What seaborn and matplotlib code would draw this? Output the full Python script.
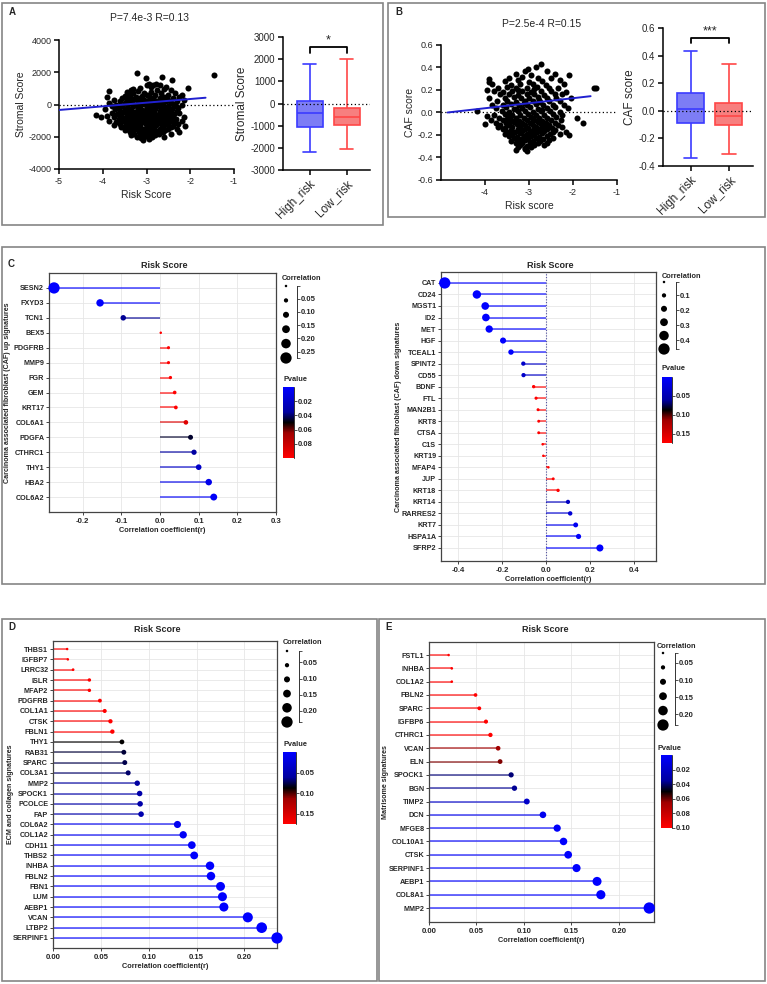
import numpy as np
import pandas as pd
import matplotlib
matplotlib.use('Agg')
import matplotlib.pyplot as plt
import seaborn as sns
from matplotlib.colors import LinearSegmentedColormap, Normalize
from matplotlib.cm import ScalarMappable
from matplotlib.patches import Rectangle

# ---------------- panel A : risk score vs stromal score ----------------
scatter_a = [
    (-3.22, 1980), (-2.64, 1730), (-3.02, 1620), (-2.42, 1520), (-1.45, 1800),
    (-2.95, 1260), (-2.86, 1240), (-2.78, 1270), (-3.0, 1180), (-2.7, 1200),
    (-2.9, 1090), (-2.55, 1110), (-2.05, 1000), (-3.3, 990), (-3.15, 1020), (-2.6, 970),
    (-3.35, 900), (-2.75, 880), (-2.45, 920),
    (-3.85, 820), (-3.45, 790), (-3.2, 810), (-2.9, 780),
    (-3.3, 700), (-3.05, 720), (-2.68, 690), (-2.35, 710),
    (-3.4, 610), (-3.0, 590), (-2.8, 620), (-2.52, 600), (-2.2, 580),
    (-3.9, 480), (-3.5, 510), (-3.25, 490), (-3.1, 520), (-2.95, 500), (-2.6, 470), (-2.25, 490),
    (-3.55, 410), (-3.35, 390), (-3.15, 400), (-2.85, 420), (-2.7, 380), (-2.4, 400),
    (-3.75, 300), (-3.45, 310), (-3.3, 280), (-3.05, 300), (-2.9, 320), (-2.65, 290), (-2.5, 310), (-2.15, 280),
    (-3.6, 200), (-3.2, 210), (-3.0, 190), (-2.78, 200), (-2.55, 220), (-2.3, 190),
    (-3.85, 100), (-3.5, 110), (-3.38, 90), (-3.12, 100), (-2.95, 120), (-2.7, 90), (-2.45, 110),
    (-3.7, 0), (-3.42, 10), (-3.25, -10), (-3.05, 20), (-2.85, 0), (-2.62, -20), (-2.4, 10), (-2.2, -10),
    (-3.8, -100), (-3.55, -90), (-3.3, -110), (-3.15, -100), (-2.98, -120), (-2.75, -90), (-2.5, -100), (-2.32, -110),
    (-3.65, -200), (-3.45, -210), (-3.2, -190), (-3.0, -200), (-2.9, -220), (-2.68, -200), (-2.55, -190), (-2.28, -210),
    (-3.95, -300), (-3.72, -310), (-3.5, -290), (-3.35, -300), (-3.1, -320), (-2.92, -300), (-2.8, -280), (-2.6, -310), (-2.42, -300),
    (-3.6, -400), (-3.4, -410), (-3.22, -390), (-3.05, -400), (-2.88, -420), (-2.7, -400), (-2.5, -390), (-2.3, -410),
    (-3.8, -500), (-3.55, -510), (-3.32, -490), (-3.15, -500), (-2.97, -520), (-2.82, -500), (-2.62, -490), (-2.45, -510), (-2.25, -500),
    (-4.15, -650), (-3.68, -600), (-3.45, -610), (-3.28, -590), (-3.1, -600), (-2.9, -620), (-2.72, -600), (-2.55, -590), (-2.38, -610),
    (-4.05, -750), (-3.9, -700), (-3.6, -710), (-3.38, -690), (-3.2, -700), (-3.02, -720), (-2.85, -700), (-2.65, -690), (-2.48, -710),
    (-3.75, -800), (-3.52, -810), (-3.3, -790), (-3.12, -800), (-2.95, -820), (-2.78, -800), (-2.58, -790), (-2.4, -810), (-2.15, -800),
    (-3.62, -900), (-3.42, -910), (-3.25, -890), (-3.05, -900), (-2.88, -920), (-2.7, -900), (-2.52, -890), (-2.32, -910),
    (-3.85, -1000), (-3.55, -1010), (-3.35, -990), (-3.18, -1000), (-2.98, -1020), (-2.8, -1000), (-2.62, -990), (-2.45, -1010), (-2.2, -1000),
    (-3.7, -1100), (-3.48, -1110), (-3.28, -1090), (-3.1, -1100), (-2.92, -1120), (-2.75, -1100), (-2.55, -1090), (-2.35, -1110),
    (-3.6, -1200), (-3.4, -1210), (-3.2, -1190), (-3.02, -1200), (-2.85, -1220), (-2.68, -1200), (-2.5, -1190), (-2.28, -1210),
    (-3.75, -1300), (-3.5, -1310), (-3.32, -1290), (-3.15, -1300), (-2.95, -1320), (-2.78, -1300), (-2.6, -1290), (-2.4, -1310), (-2.12, -1330),
    (-3.58, -1400), (-3.38, -1410), (-3.2, -1390), (-3.0, -1400), (-2.82, -1420), (-2.62, -1400), (-2.45, -1390),
    (-3.45, -1500), (-3.25, -1510), (-3.08, -1490), (-2.9, -1500), (-2.7, -1520), (-2.52, -1500), (-2.3, -1490),
    (-3.5, -1600), (-3.3, -1610), (-3.12, -1590), (-2.95, -1600), (-2.75, -1620), (-2.58, -1600),
    (-3.38, -1700), (-3.18, -1710), (-3.0, -1690), (-2.82, -1700), (-2.62, -1720), (-2.25, -1700),
    (-3.28, -1800), (-3.1, -1810), (-2.92, -1790), (-2.72, -1800), (-2.45, -1820),
    (-3.35, -1900), (-3.15, -1910), (-2.98, -1890), (-2.8, -1900),
    (-3.22, -2000), (-3.05, -2010), (-2.88, -1990), (-2.6, -2000),
    (-3.12, -2100), (-2.95, -2110), (-3.08, -2200),
    (-3.48, -350), (-3.27, -750), (-3.0, -1050), (-2.83, -550), (-3.4, -1550), (-2.7, -1700),
    (-3.58, -850), (-2.62, -250), (-3.18, 50), (-2.9, -1250), (-3.05, -1750), (-2.5, -650),
]
fit_a_x = [-5.0, -1.65]
fit_a_y = [-340, 420]

box_groups = ['High_risk', 'Low_risk']
# min, q1, median, q3, max
stromal_high = [-2200, -1050, -450, 100, 1800]
stromal_low = [-2050, -950, -600, -200, 2000]

# ---------------- panel B : risk score vs CAF score ----------------
scatter_b = [
    (-2.73, 0.43), (-3.02, 0.39), (-2.85, 0.40), (-3.1, 0.365), (-2.6, 0.37),
    (-3.3, 0.345), (-2.95, 0.335), (-2.4, 0.34), (-2.1, 0.33),
    (-3.9, 0.30), (-3.45, 0.31), (-3.15, 0.315), (-2.8, 0.305), (-2.5, 0.31),
    (-3.55, 0.28), (-3.25, 0.285), (-3.0, 0.275), (-2.7, 0.28), (-2.3, 0.285), (-3.92, 0.27),
    (-3.85, 0.25), (-3.4, 0.245), (-3.2, 0.255), (-2.9, 0.25), (-2.62, 0.245), (-2.2, 0.25),
    (-3.7, 0.22), (-3.5, 0.225), (-3.3, 0.215), (-3.05, 0.22), (-2.82, 0.225), (-2.55, 0.215),
    (-2.35, 0.22), (-1.52, 0.215), (-1.47, 0.215), (-3.95, 0.20),
    (-3.8, 0.19), (-3.6, 0.185), (-3.38, 0.195), (-3.15, 0.19), (-2.95, 0.185), (-2.72, 0.195), (-2.5, 0.19), (-2.15, 0.185),
    (-3.65, 0.16), (-3.45, 0.165), (-3.25, 0.155), (-3.05, 0.16), (-2.88, 0.165), (-2.65, 0.155), (-2.42, 0.16), (-2.25, 0.165),
    (-3.9, 0.13), (-3.55, 0.125), (-3.35, 0.135), (-3.18, 0.13), (-3.0, 0.125), (-2.8, 0.135), (-2.6, 0.13), (-2.38, 0.125), (-2.05, 0.13),
    (-3.72, 0.10), (-3.5, 0.105), (-3.3, 0.095), (-3.1, 0.10), (-2.92, 0.105), (-2.75, 0.095), (-2.55, 0.10), (-2.3, 0.105),
    (-3.85, 0.07), (-3.6, 0.065), (-3.42, 0.075), (-3.22, 0.07), (-3.05, 0.065), (-2.85, 0.075), (-2.68, 0.07), (-2.45, 0.065), (-2.2, 0.07),
    (-3.75, 0.04), (-3.52, 0.045), (-3.35, 0.035), (-3.15, 0.04), (-2.98, 0.045), (-2.8, 0.035), (-2.6, 0.04), (-2.4, 0.045), (-2.12, 0.04),
    (-4.18, 0.013), (-3.62, 0.01), (-3.45, 0.005), (-3.25, 0.015), (-3.08, 0.01), (-2.9, 0.005), (-2.72, 0.015), (-2.52, 0.01), (-2.3, 0.005),
    (-3.8, -0.02), (-3.55, -0.015), (-3.38, -0.025), (-3.2, -0.02), (-3.02, -0.015), (-2.85, -0.025), (-2.65, -0.02), (-2.45, -0.015), (-2.25, -0.025),
    (-3.95, -0.03), (-3.68, -0.045), (-3.48, -0.04), (-3.3, -0.05), (-3.12, -0.045), (-2.95, -0.04), (-2.78, -0.05), (-2.58, -0.045), (-2.38, -0.04), (-1.9, -0.045),
    (-3.87, -0.07), (-3.6, -0.07), (-3.4, -0.065), (-3.22, -0.075), (-3.05, -0.07), (-2.88, -0.065), (-2.7, -0.075), (-2.5, -0.07), (-2.28, -0.065),
    (-3.75, -0.09), (-3.52, -0.095), (-3.35, -0.085), (-3.15, -0.09), (-2.98, -0.095), (-2.8, -0.085), (-2.62, -0.09), (-2.42, -0.095), (-1.77, -0.09),
    (-4.0, -0.10), (-3.65, -0.11), (-3.45, -0.115), (-3.28, -0.105), (-3.08, -0.11), (-2.9, -0.115), (-2.72, -0.105), (-2.55, -0.11), (-2.35, -0.115),
    (-3.7, -0.13), (-3.55, -0.135), (-3.38, -0.125), (-3.2, -0.13), (-3.02, -0.135), (-2.85, -0.125), (-2.65, -0.13), (-2.48, -0.135), (-2.25, -0.125),
    (-3.6, -0.15), (-3.42, -0.155), (-3.25, -0.145), (-3.1, -0.15), (-2.92, -0.155), (-2.75, -0.145), (-2.58, -0.15), (-2.4, -0.155),
    (-3.5, -0.17), (-3.32, -0.175), (-3.15, -0.165), (-2.98, -0.17), (-2.82, -0.175), (-2.65, -0.165), (-2.45, -0.17), (-2.15, -0.175),
    (-3.55, -0.19), (-3.38, -0.195), (-3.2, -0.185), (-3.05, -0.19), (-2.88, -0.195), (-2.7, -0.185), (-2.52, -0.19), (-2.3, -0.195),
    (-3.45, -0.21), (-3.28, -0.215), (-3.12, -0.205), (-2.95, -0.21), (-2.78, -0.215), (-2.6, -0.205), (-2.1, -0.20),
    (-3.35, -0.23), (-3.18, -0.235), (-3.02, -0.225), (-2.85, -0.23), (-2.68, -0.235), (-2.45, -0.225),
    (-3.42, -0.25), (-3.25, -0.255), (-3.08, -0.245), (-2.92, -0.25), (-2.75, -0.255), (-2.55, -0.245),
    (-3.3, -0.27), (-3.15, -0.275), (-2.98, -0.265), (-2.8, -0.27), (-2.6, -0.275),
    (-3.2, -0.29), (-3.05, -0.295), (-2.88, -0.285), (-2.65, -0.29),
    (-3.25, -0.31), (-3.1, -0.315), (-2.95, -0.305), (-3.3, -0.33), (-3.1, -0.325), (-3.05, -0.34),
    (-3.3, 0.03), (-2.92, -0.06), (-3.12, 0.085), (-2.78, 0.115), (-3.45, -0.1), (-2.6, -0.14),
    (-3.05, -0.2), (-3.25, 0.2), (-2.7, 0.02), (-3.5, -0.06), (-2.88, 0.21), (-3.15, -0.24),
]
fit_b_x = [-4.85, -1.6]
fit_b_y = [0.0, 0.145]

caf_high = [-0.34, -0.09, 0.01, 0.13, 0.43]
caf_low = [-0.31, -0.105, -0.04, 0.055, 0.34]

# ---------------- panel C : CAF up / down signatures ----------------
c_up_genes = ['SESN2', 'FXYD3', 'TCN1', 'BEX5', 'PDGFRB', 'MMP9', 'FGR', 'GEM', 'KRT17',
              'COL6A1', 'PDGFA', 'CTHRC1', 'THY1', 'HBA2', 'COL6A2']
c_up_r = [-0.274, -0.155, -0.095, 0.002, 0.022, 0.022, 0.027, 0.038, 0.041,
          0.067, 0.079, 0.088, 0.100, 0.126, 0.139]
c_up_p = [1e-7, 1e-3, 0.036, 0.96, 0.65, 0.65, 0.58, 0.44, 0.40,
          0.088, 0.046, 0.034, 0.020, 0.008, 0.003]

c_down_genes = ['CAT', 'CD24', 'MGST1', 'ID2', 'MET', 'HGF', 'TCEAL1', 'SPINT2', 'CD55', 'BDNF',
                'FTL', 'MAN2B1', 'KRT8', 'CTSA', 'C1S', 'KRT19', 'MFAP4', 'JUP', 'KRT18', 'KRT14',
                'RARRES2', 'KRT7', 'HSPA1A', 'SFRP2']
c_down_r = [-0.46, -0.314, -0.276, -0.273, -0.258, -0.195, -0.159, -0.103, -0.102, -0.056,
            -0.045, -0.036, -0.033, -0.033, -0.015, -0.012, 0.011, 0.033, 0.055, 0.100,
            0.110, 0.135, 0.148, 0.245]
c_down_p = [1e-20, 1e-10, 1e-8, 1e-8, 1e-7, 1e-5, 1e-3, 0.035, 0.035, 0.25,
            0.36, 0.46, 0.50, 0.50, 0.76, 0.81, 0.83, 0.50, 0.26, 0.040,
            0.028, 0.009, 0.004, 1e-6]

# ---------------- panel D : ECM and collagen ----------------
d_genes = ['THBS1', 'IGFBP7', 'LRRC32', 'ISLR', 'MFAP2', 'PDGFRB', 'COL1A1', 'CTSK', 'FBLN1',
           'THY1', 'RAB31', 'SPARC', 'COL3A1', 'MMP2', 'SPOCK1', 'PCOLCE', 'FAP', 'COL6A2',
           'COL1A2', 'CDH11', 'THBS2', 'INHBA', 'FBLN2', 'FBN1', 'LUM', 'AEBP1', 'VCAN',
           'LTBP2', 'SERPINF1']
d_r = [0.0148, 0.0155, 0.021, 0.038, 0.038, 0.049, 0.054, 0.060, 0.062,
       0.072, 0.074, 0.075, 0.0785, 0.088, 0.0905, 0.091, 0.092, 0.130,
       0.136, 0.145, 0.1475, 0.164, 0.165, 0.175, 0.177, 0.1785, 0.2035,
       0.218, 0.234]
d_p = [0.76, 0.75, 0.67, 0.44, 0.44, 0.32, 0.27, 0.21, 0.19,
       0.088, 0.078, 0.075, 0.070, 0.060, 0.055, 0.055, 0.052, 0.009,
       0.006, 0.003, 0.002, 5e-4, 5e-4, 2e-4, 1e-4, 1e-4, 1e-5,
       1e-6, 1e-6]

# ---------------- panel E : matrisome ----------------
e_genes = ['FSTL1', 'INHBA', 'COL1A2', 'FBLN2', 'SPARC', 'IGFBP6', 'CTHRC1', 'VCAN', 'ELN',
           'SPOCK1', 'BGN', 'TIMP2', 'DCN', 'MFGE8', 'COL10A1', 'CTSK', 'SERPINF1', 'AEBP1',
           'COL8A1', 'MMP2']
e_r = [0.0207, 0.024, 0.024, 0.049, 0.053, 0.060, 0.0647, 0.0728, 0.0749,
       0.0865, 0.090, 0.103, 0.120, 0.135, 0.1417, 0.1466, 0.1554, 0.177,
       0.181, 0.232]
e_p = [0.67, 0.62, 0.62, 0.31, 0.27, 0.21, 0.17, 0.066, 0.062,
       0.039, 0.036, 0.020, 0.006, 0.002, 0.001, 8e-4, 4e-4, 1e-4,
       1e-4, 1e-6]

# ---------------- style ----------------
sns.set_theme(style='ticks')
plt.rcParams['font.family'] = ['Liberation Sans', 'DejaVu Sans']
plt.rcParams['axes.unicode_minus'] = False

pcmap = LinearSegmentedColormap.from_list(
    'pval', [(0, '#0000ff'), (0.35, '#0000a0'), (0.5, '#000000'), (0.65, '#a00000'), (1, '#ff0000')])

W, H = 767, 984
fig = plt.figure(figsize=(W / 100, H / 100), dpi=100)


def px_axes(l, t, r, b):
    return fig.add_axes([l / W, 1 - b / H, (r - l) / W, (b - t) / H])


def ftext(x, y, s, **kw):
    fig.text(x / W, 1 - y / H, s, **kw)


def frame(l, t, r, b):
    fig.add_artist(Rectangle((l / W, 1 - b / H), (r - l) / W, (b - t) / H, transform=fig.transFigure,
                             fill=False, edgecolor='#858585', lw=1.2))


def prism(ax, size):
    sns.despine(ax=ax)
    for s in ['left', 'bottom']:
        ax.spines[s].set_linewidth(1.1)
        ax.spines[s].set_color('black')
    ax.tick_params(width=1.1, length=3.5, color='black', labelsize=size, pad=2)


def scatter_panel(rect, pts, fx, fy, xticks, ylim, yticks, xlabel, ylabel, title, title_xy):
    ax = px_axes(*rect)
    xs = [p[0] for p in pts]
    ys = [p[1] for p in pts]
    ax.axhline(0, color='black', lw=0.9, ls=(0, (1, 2)), zorder=1)
    sns.scatterplot(x=xs, y=ys, color='black', s=19, linewidth=0, ax=ax, zorder=2)
    sns.lineplot(x=fx, y=fy, color='#2020d0', lw=1.4, ax=ax, zorder=3)
    ax.set_xlim(-5, -1)
    ax.set_ylim(ylim)
    ax.set_xticks(xticks)
    ax.set_yticks(yticks)
    prism(ax, 6.5)
    ax.set_xlabel(xlabel, fontsize=7.5, labelpad=3)
    ax.set_ylabel(ylabel, fontsize=7.5, labelpad=2)
    ftext(*title_xy, title, fontsize=7.5, ha='center', va='center', fontweight='medium')
    return ax


box_faces = ['#7d7df5', '#f77f7f']
box_edges = ['#3b3bff', '#ff4747']


def box_panel(rect, high, low, ylim, yticks, ylabel, star, br_top, br_drop):
    ax = px_axes(*rect)
    for grp, vals, face, edge in zip(box_groups, [high, low], box_faces, box_edges):
        sns.boxplot(x=[grp] * len(vals), y=vals, order=box_groups, color=face, linecolor=edge,
                    saturation=1, whis=(0, 100), width=0.7, linewidth=1.2, ax=ax)
    ax.axhline(0, color='black', lw=0.9, ls=(0, (1, 2)), zorder=5)
    ax.plot([0, 0, 1, 1], [br_top - br_drop, br_top, br_top, br_top - br_drop], color='black', lw=1.3)
    ax.text(0.5, br_top, star, ha='center', va='bottom', fontsize=9)
    ax.set_xlim(-0.72, 1.63)
    ax.set_ylim(ylim)
    ax.set_yticks(yticks)
    ax.set_xticks([0, 1], labels=box_groups, rotation=45, ha='right', rotation_mode='anchor')
    prism(ax, 7)
    ax.tick_params(axis='x', labelsize=8.5)
    ax.set_xlabel('')
    ax.set_ylabel(ylabel, fontsize=8.5, labelpad=2)
    return ax


def dot_area(v, rmin, rmax):
    d_px = 2.5 + (11.3 - 2.5) * (v - rmin) / (rmax - rmin)
    return (d_px * 0.72) ** 2


def lollipop(rect, genes, r, p, pmax, xlim, xticks, xfmt, margins, ylabel, ylabel_x, zero_line=False):
    ax = px_axes(*rect)
    df = pd.DataFrame({'gene': genes, 'r': r, 'p': p})
    df['pos'] = np.arange(len(df))
    df['absr'] = df['r'].abs()
    norm = Normalize(0, pmax)
    rmin, rmax = df['absr'].min(), df['absr'].max()
    sizes = {v: dot_area(v, rmin, rmax) for v in df['absr'].unique()}
    ax.grid(True, color='#e6e6e6', lw=0.6)
    ax.set_axisbelow(True)
    if zero_line:
        ax.axvline(0, color='#5050a0', lw=0.8, ls=(0, (1, 1.5)), zorder=1)
    ax.hlines(df['pos'], 0, df['r'], colors=pcmap(norm(df['p'])), lw=1.1, alpha=0.75, zorder=2)
    sns.scatterplot(data=df, x='r', y='pos', hue='p', palette=pcmap, hue_norm=norm,
                    size='absr', sizes=sizes, legend=False, linewidth=0, ax=ax, zorder=3, clip_on=False)
    n = len(df)
    ax.set_ylim(n - 1 + margins[1], -margins[0])
    ax.set_xlim(xlim)
    ax.set_xticks(xticks, labels=[xfmt % v for v in xticks], fontweight='bold')
    ax.set_yticks(df['pos'], labels=genes, fontweight='bold')
    for s in ax.spines.values():
        s.set_color('#444444')
        s.set_linewidth(0.9)
    ax.tick_params(labelsize=5.6, length=2.5, width=0.7, pad=1.5, color='#444444')
    ax.tick_params(axis='y', labelsize=5.2, pad=1)
    ax.set_xlabel('Correlation coefficient(r)', fontsize=5.3, fontweight='bold', labelpad=1.5)
    ax.set_ylabel(ylabel, fontsize=5.1, fontweight='bold')
    # label anchor is the right side of the rotated text
    ax.yaxis.set_label_coords((ylabel_x + 3.5 - rect[0]) / (rect[2] - rect[0]), 0.5)
    return ax, norm, rmin, rmax


def size_legend(title_xy, x_dot, x_bar, y_top, y_bot, rmin, rmax, ticks, fmt):
    ftext(*title_xy, 'Correlation', fontsize=5.3, fontweight='bold', ha='left', va='center')
    lax = px_axes(x_dot - 8, y_top, x_bar, y_bot)
    levels = np.linspace(rmin, rmax, 6)
    sizes = {v: dot_area(v, rmin, rmax) for v in levels}
    xfrac = 8 / (x_bar - x_dot + 8)
    sns.scatterplot(x=np.full(6, xfrac), y=levels, size=levels, sizes=sizes, color='black',
                    linewidth=0, legend=False, ax=lax, clip_on=False)
    lax.set_xlim(0, 1)
    lax.set_ylim(rmax, rmin)
    for s in ['left', 'top', 'bottom']:
        lax.spines[s].set_visible(False)
    lax.spines['right'].set_color('#333333')
    lax.spines['right'].set_linewidth(0.7)
    lax.set_xticks([])
    lax.yaxis.tick_right()
    lax.set_yticks([rmin] + ticks + [rmax], labels=[''] + [fmt % t for t in ticks] + [''],
                   fontweight='bold')
    lax.tick_params(axis='y', labelsize=5.5, length=2, width=0.6, pad=1, color='#333333')
    lax.set_facecolor('none')


def pvalue_bar(title_xy, rect, norm, ticks, fmt):
    ftext(*title_xy, 'Pvalue', fontsize=5.3, fontweight='bold', ha='left', va='center')
    cax = px_axes(*rect)
    cb = fig.colorbar(ScalarMappable(norm=norm, cmap=pcmap), cax=cax, ticks=ticks)
    cax.invert_yaxis()
    cb.outline.set_visible(False)
    cax.set_yticks(ticks, labels=[fmt % t for t in ticks], fontweight='bold')
    cax.tick_params(labelsize=5.5, length=2, width=0.6, pad=1, color='#333333')
    cax.plot([1, 1], [0, 1], transform=cax.transAxes, color='#333333', lw=0.7, clip_on=False)


# ---------------- frames and letters ----------------
frame(2, 3, 383, 225)
frame(388, 3, 765, 217)
frame(2, 247, 765, 584)
frame(2, 619, 377, 981)
frame(379, 619, 765, 981)
for letter, xy in zip('ABCDE', [(9, 12), (395, 12), (8, 264), (8, 627), (385, 627)]):
    ftext(*xy, letter, fontsize=7, fontweight='bold', ha='left', va='center')

# ---------------- A ----------------
scatter_panel((59, 40, 234, 169), scatter_a, fit_a_x, fit_a_y, [-5, -4, -3, -2, -1],
              (-4000, 4000), [-4000, -2000, 0, 2000, 4000], 'Risk Score', 'Stromal Score',
              'P=7.4e-3 R=0.13', (150, 18))
box_panel((283, 37, 370, 170), stromal_high, stromal_low, (-3000, 3000),
          [-3000, -2000, -1000, 0, 1000, 2000, 3000], 'Stromal Score', '*', 2560, 260)

# ---------------- B ----------------
axb = scatter_panel((441, 45, 617, 180), scatter_b, fit_b_x, fit_b_y, [-4, -3, -2, -1],
                    (-0.6, 0.6), [-0.6, -0.4, -0.2, 0.0, 0.2, 0.4, 0.6], 'Risk score', 'CAF score',
                    'P=2.5e-4 R=0.15', (542, 24))
axb.yaxis.set_major_formatter(matplotlib.ticker.FormatStrFormatter('%.1f'))
axbb = box_panel((663, 28, 753, 166), caf_high, caf_low, (-0.4, 0.6),
                 [-0.4, -0.2, 0.0, 0.2, 0.4, 0.6], 'CAF score', '***', 0.53, 0.04)
axbb.yaxis.set_major_formatter(matplotlib.ticker.FormatStrFormatter('%.1f'))

# ---------------- C ----------------
ax, norm, rmin, rmax = lollipop((49, 273, 276, 512), c_up_genes, c_up_r, c_up_p, 0.1,
                                (-0.287, 0.3), [-0.2, -0.1, 0.0, 0.1, 0.2, 0.3], '%.1f', (1.0, 1.0),
                                'Carcinoma associated fibroblast (CAF) up signatures', 8)
ftext(164, 265, 'Risk Score', fontsize=6.5, fontweight='bold', ha='center', va='center')
size_legend((282, 278), 286, 297, 286, 358, rmin, rmax, [0.05, 0.10, 0.15, 0.20, 0.25], '%.2f')
pvalue_bar((283, 379), (283, 387, 294, 458), norm, [0.02, 0.04, 0.06, 0.08], '%.2f')

ax, norm, rmin, rmax = lollipop((441, 272, 656, 561), c_down_genes, c_down_r, c_down_p, 0.175,
                                (-0.477, 0.5), [-0.4, -0.2, 0.0, 0.2, 0.4], '%.1f', (0.95, 1.13),
                                'Carcinoma associated fibroblast (CAF) down signatures', 398,
                                zero_line=True)
ftext(550, 265, 'Risk Score', fontsize=6.5, fontweight='bold', ha='center', va='center')
size_legend((662, 276), 664, 676, 282, 349, rmin, rmax, [0.1, 0.2, 0.3, 0.4], '%.1f')
pvalue_bar((662, 369), (662, 377, 672, 443), norm, [0.05, 0.10, 0.15], '%.2f')

# ---------------- D ----------------
ax, norm, rmin, rmax = lollipop((53, 641, 277, 948), d_genes, d_r, d_p, 0.175,
                                (0, 0.234), [0.0, 0.05, 0.10, 0.15, 0.20], '%.2f', (0.78, 0.97),
                                'ECM and collagen signatures', 11)
ftext(157, 630, 'Risk Score', fontsize=6.5, fontweight='bold', ha='center', va='center')
size_legend((283, 643), 287, 299, 651, 722, rmin, rmax, [0.05, 0.10, 0.15, 0.20], '%.2f')
pvalue_bar((283, 745), (283, 752, 296, 824), norm, [0.05, 0.10, 0.15], '%.2f')

# ---------------- E ----------------
ax, norm, rmin, rmax = lollipop((429, 642, 654, 922), e_genes, e_r, e_p, 0.1,
                                (0, 0.237), [0.0, 0.05, 0.10, 0.15, 0.20], '%.2f', (0.98, 1.05),
                                'Matrisome signatures', 386)
ftext(545, 630, 'Risk Score', fontsize=6.5, fontweight='bold', ha='center', va='center')
size_legend((657, 647), 663, 675, 653, 725, rmin, rmax, [0.05, 0.10, 0.15, 0.20], '%.2f')
pvalue_bar((657, 748), (661, 755, 672, 828), norm, [0.02, 0.04, 0.06, 0.08, 0.10], '%.2f')

fig.savefig('out.png', dpi=100)
